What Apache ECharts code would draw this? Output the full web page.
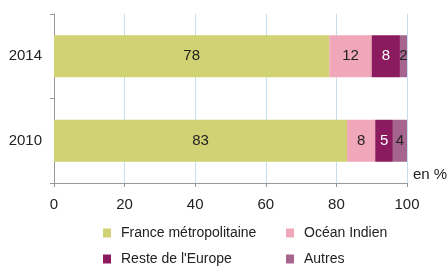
<!DOCTYPE html>
<html>
<head>
<meta charset="utf-8">
<script src="https://cdn.jsdelivr.net/npm/echarts@6/dist/echarts.min.js"></script>
<style>
  html, body { margin: 0; padding: 0; background: #fff; }
  #chart { width: 447px; height: 266px; }
</style>
</head>
<body>
<div id="chart"></div>
<script>
// Répartition par origine, en %
const years = ["2010", "2014"];
const seriesNames = ["France métropolitaine", "Océan Indien", "Reste de l'Europe", "Autres"];
const franceValues = [83, 78];
const oceanValues = [8, 12];
const europeValues = [5, 8];
const autresValues = [4, 2];
const xTicks = [0, 20, 40, 60, 80, 100];

const colors = ["#d0d273", "#f0a7b9", "#8b1a5e", "#a6658e"];
const labelColors = ["#222", "#222", "#fff", "#222"];
const values = [franceValues, oceanValues, europeValues, autresValues];
const font = "Liberation Sans, Arial, sans-serif";

// position de chaque entrée de légende (deux colonnes, deux lignes)
const legendSpots = [[103, 226], [286, 226], [103, 252], [286, 252]];

const chart = echarts.init(document.getElementById("chart"));
chart.setOption({
    animation: false,
    grid: { left: 54, right: 40, top: 14, bottom: 83 },
    xAxis: {
        type: "value",
        min: xTicks[0],
        max: xTicks[xTicks.length - 1],
        interval: 20,
        axisLine: { show: true, lineStyle: { color: "#999", width: 1 } },
        axisTick: { show: true, length: 4, lineStyle: { color: "#999" } },
        axisLabel: { color: "#222", fontSize: 15, fontFamily: font, margin: 14 },
        splitLine: { show: true, lineStyle: { color: "#c5dff0", width: 1 } }
    },
    yAxis: {
        type: "category",
        data: years,
        axisLine: { show: true, lineStyle: { color: "#999", width: 1 } },
        axisTick: { show: true, length: 4, lineStyle: { color: "#999" } },
        axisLabel: { color: "#222", fontSize: 15, fontFamily: font, margin: 12 }
    },
    legend: seriesNames.map((name, i) => ({
        left: legendSpots[i][0],
        top: legendSpots[i][1],
        padding: 0,
        itemWidth: 8, itemHeight: 9, icon: "rect",
        textStyle: { color: "#222", fontSize: 14, fontFamily: font, padding: [0, 0, 0, 5] },
        data: [name]
    })),
    graphic: [{
        type: "text", left: 413, top: 167,
        style: { text: "en %", fill: "#222", font: "15px " + font }
    }],
    series: seriesNames.map((name, i) => ({
        name,
        type: "bar",
        stack: "total",
        barWidth: 42,
        data: values[i],
        itemStyle: { color: colors[i] },
        label: {
            show: true,
            position: "inside",
            color: labelColors[i],
            fontSize: 15,
            fontFamily: font
        }
    }))
});
</script>
</body>
</html>
